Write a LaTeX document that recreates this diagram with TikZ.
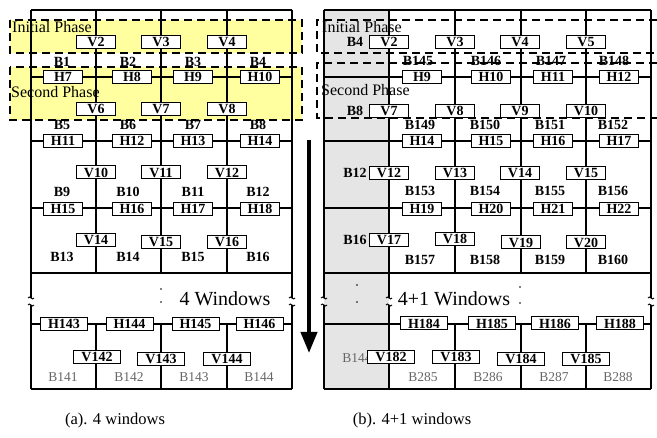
\documentclass[tikz,border=0pt]{standalone}
\usepackage{fontspec}
\setmainfont{Liberation Serif}
\usetikzlibrary{arrows.meta}
\definecolor{phaseyellow}{RGB}{255,255,160}
\newcommand{\boxfont}{\fontsize{14}{15}\selectfont\bfseries}

\begin{document}
\begin{tikzpicture}[x=1pt, y=-1pt,
  grid/.style={line width=1.2pt},
  phase/.style={dash pattern=on 8pt off 5pt, line width=1.2pt},
  lbl/.style={draw, fill=white, line width=1pt, inner sep=0pt, minimum width=39pt, minimum height=13pt, font=\boxfont},
  widelbl/.style={lbl, minimum width=47pt},
  blk/.style={inner sep=0pt, font=\boxfont},
  gblk/.style={inner sep=0pt, text=black!60, font=\fontsize{13.5}{15}\selectfont},
  phasetxt/.style={inner sep=0pt, anchor=base west, font=\fontsize{16}{17}\selectfont},
  wintxt/.style={inner sep=0pt, font=\fontsize{20}{22}\selectfont},
  captxt/.style={inner sep=0pt, font=\fontsize{16.5}{18}\selectfont},
  arr/.style={-{Triangle[length=21pt,width=16pt]}, line width=4pt}
]
\useasboundingbox (0,0) rectangle (657,438);

% backgrounds
\fill[phaseyellow] (10,20) rectangle (302,53);
\fill[phaseyellow] (10,67) rectangle (302,120);
\fill[gray!20] (324,10) rectangle (389,389);

% grid lines
\foreach \y in {10,77,141,208,273,324,389} {
  \draw[grid] (31,\y) -- (292,\y);
  \draw[grid] (324,\y) -- (651,\y);
}
\foreach \x in {96,161,227,455,521,586} {
  \draw[grid] (\x,10) -- (\x,273);
  \draw[grid] (\x,324) -- (\x,389);
}
\foreach \x in {31,292,324,389,651} {
  \draw[grid] (\x,10) -- (\x,298);
  \draw[grid] (\x,305) -- (\x,389);
  \draw[line width=0.9pt] (\x-3,298) .. controls (\x-1.5,294.5) and (\x+1.5,301.5) .. (\x+3,298);
  \draw[line width=0.9pt] (\x-3,305) .. controls (\x-1.5,301.5) and (\x+1.5,308.5) .. (\x+3,305);
}
\foreach \x/\y in {161/289,161/302,357/285,357/302,520/287,520/303}
  \fill (\x,\y) circle (0.8pt);

% (a) 4 windows
\node[phasetxt] (ainit) at (12,33) {Initial Phase};
\node[phasetxt] (asecond) at (11,98) {Second Phase};
\foreach \n/\x in {1/62,2/128,3/193,4/258} \node[blk] (aB\n) at (\x,62) {B\n};
\foreach \n/\x in {5/62,6/128,7/193,8/258} \node[blk] (aB\n) at (\x,125) {B\n};
\foreach \n/\x in {9/62,10/128,11/193,12/258} \node[blk] (aB\n) at (\x,192) {B\n};
\foreach \n/\x in {13/62,14/128,15/193,16/258} \node[blk] (aB\n) at (\x,257) {B\n};
\foreach \n/\x in {141/63,142/129,143/194,144/259} \node[gblk] (aB\n) at (\x,377) {B\n};
\foreach \n/\x in {2/96,3/161,4/227} \node[lbl] (aV\n) at (\x,42) {V\n};
\foreach \n/\x in {6/96,7/161,8/227} \node[lbl] (aV\n) at (\x,109) {V\n};
\foreach \n/\x in {10/96,11/161,12/227} \node[lbl] (aV\n) at (\x,172.5) {V\n};
\foreach \n/\x/\y in {14/96/240,15/161/242,16/227/242} \node[lbl] (aV\n) at (\x,\y) {V\n};
\foreach \n/\x/\y in {142/97/357,143/161/359,144/227/359} \node[widelbl] (aV\n) at (\x,\y) {V\n};
\foreach \n/\x in {7/63,8/132,9/193,10/260} \node[lbl] (aH\n) at (\x,77) {H\n};
\foreach \n/\x in {11/63,12/132,13/193,14/260} \node[lbl] (aH\n) at (\x,141) {H\n};
\foreach \n/\x in {15/63,16/132,17/193,18/260} \node[lbl] (aH\n) at (\x,209) {H\n};
\foreach \n/\x in {143/64,144/129.5,145/195.5,146/259.5} \node[widelbl] (aH\n) at (\x,324) {H\n};
\node[wintxt] (awin) at (225,299) {4 Windows};
\node[captxt] (acap) at (115,421) {(a). 4 windows};

% (b) 4+1 windows
\node[phasetxt] (binit) at (322,33) {Initial Phase};
\node[phasetxt] (bsecond) at (321,96) {Second Phase};
\foreach \n/\y in {4/42,8/111,12/173,16/240} \node[blk] (bB\n) at (355,\y) {B\n};
\node[gblk] (bB144) at (357,358) {B144};
\foreach \n/\x in {145/418,146/486,147/551,148/614} \node[blk] (bB\n) at (\x,61) {B\n};
\foreach \n/\x in {149/420,150/485,151/550,152/613} \node[blk] (bB\n) at (\x,125) {B\n};
\foreach \n/\x in {153/420,154/485,155/550,156/613} \node[blk] (bB\n) at (\x,191) {B\n};
\foreach \n/\x in {157/420,158/485,159/550,160/613} \node[blk] (bB\n) at (\x,260) {B\n};
\foreach \n/\x in {285/423,286/488,287/554,288/618} \node[gblk] (bB\n) at (\x,377) {B\n};
\foreach \n/\x in {2/389,3/455,4/520,5/586} \node[lbl] (bV\n) at (\x,42) {V\n};
\foreach \n/\x in {7/389,8/455,9/520,10/586} \node[lbl] (bV\n) at (\x,111) {V\n};
\foreach \n/\x in {12/389,13/455,14/520,15/586} \node[lbl] (bV\n) at (\x,173) {V\n};
\foreach \n/\x/\y in {17/389/240,18/455/239,19/521/242.5,20/586/242.5} \node[lbl] (bV\n) at (\x,\y) {V\n};
\foreach \n/\x/\y in {182/391/357,183/456/357,184/521/359,185/586/359} \node[widelbl] (bV\n) at (\x,\y) {V\n};
\foreach \n/\x in {9/422,10/491,11/553,12/619} \node[lbl] (bH\n) at (\x,77) {H\n};
\foreach \n/\x in {14/422,15/491,16/553,17/619} \node[lbl] (bH\n) at (\x,141) {H\n};
\foreach \n/\x in {19/422,20/491,21/553,22/619} \node[lbl] (bH\n) at (\x,209) {H\n};
\foreach \n/\x in {184/424,185/492,186/555,188/620} \node[widelbl] (bH\n) at (\x,323.5) {H\n};
\node[wintxt] (bwin) at (454,299) {4+1 Windows};
\node[captxt] (bcap) at (412,421) {(b). 4+1 windows};

% phase outlines
\draw[phase] (10,20) rectangle (302,53);
\draw[phase] (10,67) rectangle (302,120);
\draw[phase] (657,20) -- (317,20) -- (317,53) -- (657,53);
\draw[phase] (657,63) -- (317,63) -- (317,118) -- (657,118);

% direction
\coordinate (arrtop) at (309,140);
\coordinate (arrtip) at (309,353);
\draw[arr] (arrtop) -- (arrtip);
\end{tikzpicture}
\end{document}
